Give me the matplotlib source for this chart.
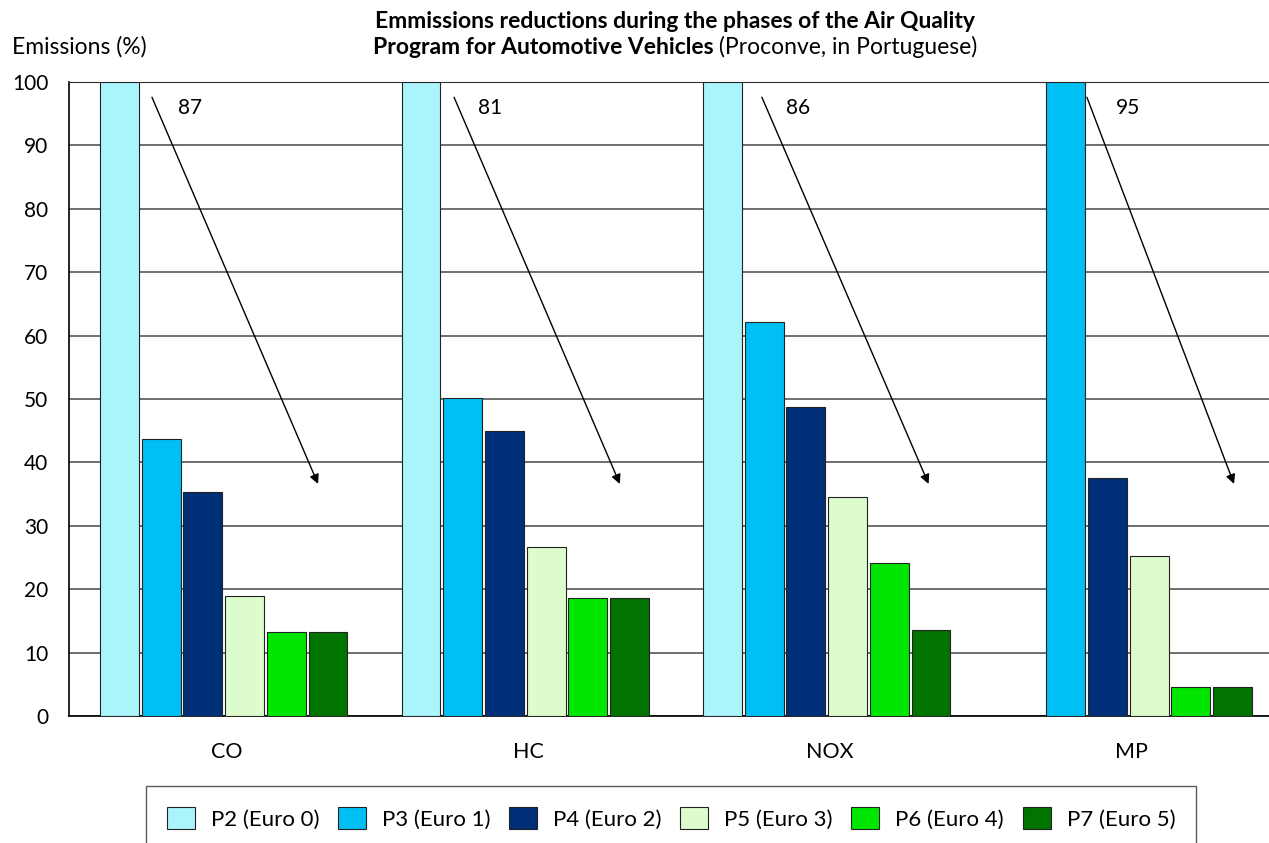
import numpy as np
import matplotlib
matplotlib.use("Agg")
from matplotlib import pyplot as plt

plt.rcParams['font.family'] = ['Lato', 'DejaVu Sans']

# data
categories = ["CO", "HC", "NOX", "MP"]
phases = ["P2 (Euro 0)", "P3 (Euro 1)", "P4 (Euro 2)", "P5 (Euro 3)", "P6 (Euro 4)", "P7 (Euro 5)"]
p2 = [100, 100, 100, 0]
p3 = [43.7, 50.2, 62.1, 100]
p4 = [35.3, 44.9, 48.8, 37.6]
p5 = [18.9, 26.7, 34.5, 25.2]
p6 = [13.2, 18.6, 24.1, 4.6]
p7 = [13.2, 18.6, 13.6, 4.6]
reductions = [87, 81, 86, 95]

colors = ["#aaf4fc", "#00bff5", "#002f7a", "#dcfccc", "#00e600", "#007300"]

# arrow start/end (x offset within group, y value) and label x offset
arrowStart = [(-0.239, 97.6), (-0.237, 97.6), (-0.216, 97.6), (-0.138, 97.6)]
arrowEnd = [(0.312, 36.6), (0.313, 36.6), (0.337, 36.6), (0.350, 36.6)]
labelX = [-0.113, -0.118, -0.096, 0.0]


def main():
    fig = plt.figure(figsize=(12.69, 8.43), dpi=100)
    ax = fig.add_axes([69 / 1269, 127 / 843, 1200 / 1269, 634 / 843])

    series = [p2, p3, p4, p5, p6, p7]
    x = np.arange(len(categories))
    barW = 0.129
    pitch = 0.1383
    start = -0.411
    for k in range(len(series)):
        ax.bar(x + start + k * pitch, series[k], width=barW, align='edge',
               color=colors[k], edgecolor='#222222', linewidth=0.8,
               label=phases[k], zorder=3)

    for i in range(len(categories)):
        sx, sy = arrowStart[i]
        ex, ey = arrowEnd[i]
        ax.annotate("", xy=(i + ex, ey), xytext=(i + sx, sy),
                    arrowprops=dict(arrowstyle='-|>', color='black', lw=1,
                                    mutation_scale=14, shrinkA=0, shrinkB=0),
                    zorder=4)
        ax.text(i + labelX[i], 95.9, str(reductions[i]), fontsize=15,
                ha='center', va='center', zorder=4)

    left = -155 / 301.5
    ax.set_xlim(left, left + 1200 / 301.5)
    ax.set_ylim(0, 100)
    ax.set_yticks(np.arange(0, 101, 10))
    ax.set_xticks(x + 0.01)
    ax.set_xticklabels(categories, fontsize=15.5)
    ax.tick_params(axis='both', length=0)
    ax.tick_params(axis='y', labelsize=15, pad=15)
    ax.tick_params(axis='x', pad=19)
    ax.yaxis.grid(True, color='#555555', linewidth=1.2, zorder=0)
    ax.set_axisbelow(True)
    ax.spines['right'].set_visible(False)
    ax.spines['top'].set_color('#333333')
    ax.spines['left'].set_linewidth(1.2)
    ax.spines['bottom'].set_linewidth(1.2)

    fig.text(12 / 1269, 1 - 47 / 843, "Emissions (%)", fontsize=16.5,
             ha='left', va='center')

    fig.text(675 / 1269, 1 - 22 / 843,
             "Emmissions reductions during the phases of the Air Quality",
             fontsize=16.5, fontweight='bold', ha='center', va='center')
    boldPart = fig.text(0, 1 - 47 / 843, "Program for Automotive Vehicles",
                        fontsize=16.5, fontweight='bold', ha='left', va='center')
    normalPart = fig.text(0, 1 - 47 / 843, " (Proconve, in Portuguese)",
                          fontsize=16.5, ha='left', va='center')
    fig.canvas.draw()
    r = fig.canvas.get_renderer()
    w1 = boldPart.get_window_extent(r).width
    w2 = normalPart.get_window_extent(r).width
    x0 = 675 - (w1 + w2) / 2
    boldPart.set_x(x0 / 1269)
    normalPart.set_x((x0 + w1) / 1269)

    leg = fig.legend(loc='upper center', bbox_to_anchor=(671 / 1269, 1 - 786 / 843),
                     ncol=6, fontsize=16, frameon=True, fancybox=False,
                     edgecolor='#333333', handlelength=1.25, handleheight=1.15,
                     columnspacing=0.85, handletextpad=0.72, borderpad=0.95,
                     borderaxespad=0)
    leg.get_frame().set_linewidth(1.0)

    fig.savefig("out.png", dpi=100)


if __name__ == '__main__':
    main()
